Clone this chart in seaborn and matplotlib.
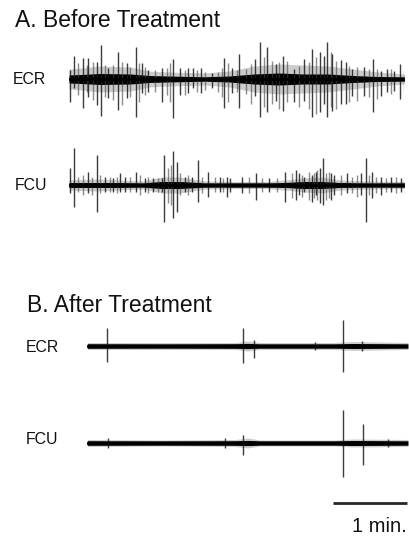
import numpy as np
import pandas as pd
import matplotlib
matplotlib.use("Agg")
import matplotlib.pyplot as plt
import seaborn as sns

sns.set_theme(style="white")
plt.rcParams['font.family'] = ['Liberation Sans', 'DejaVu Sans']

# ---------------- DATA (time in s, amplitude in arbitrary units) ----------------
durA = 272.0
durB = 260.0

# A. Before treatment - ECR : large spikes
ecrA_t = [0.8, 4.3, 11.4, 15.4, 22.5, 25.7, 31.9, 40.0, 46.8, 54.1, 58.9, 64.3,
          75.2, 84.6, 90.0, 96.7, 100.8, 107.0, 115.7, 125.9, 131.9,
          137.8, 150.6, 154.9, 160.8, 167.6, 173.8, 182.4, 190.5, 197.3, 203.5,
          206.8, 209.4, 213.5, 220.3, 224.3, 229.7, 239.2, 246.8, 252.7, 258.1,
          263.5, 268.1]
ecrA_up = [9, 23, 21, 21, 17, 34, 11, 27, 16, 32, 16, 9,
           11, 20, 11, 11, 11, 11, 6, 21, 11,
           25, 20, 37, 32, 15, 23, 10, 20, 30, 27,
           23, 37, 25, 19, 17, 10, 12, 20, 8, 10,
           8, 15]
ecrA_dn = [23, 9, 29, 18, 26, 37, 19, 31, 19, 38, 14, 13,
           23, 39, 16, 14, 9, 14, 9, 29, 14,
           29, 17, 38, 33, 22, 32, 23, 22, 38, 33,
           25, 38, 32, 25, 25, 17, 17, 33, 17, 13,
           12, 20]
# ECR : smaller spikes
ecrA_t2 = [7.6, 14.3, 19.7, 29.2, 35.9, 42.7, 49.5, 56.8, 61.6, 69.7, 79.2, 81.9,
           94.1, 103.5, 110.3, 121.1, 123.8, 129.2, 136.0,
           143.2, 147.3, 158.1, 164.9, 170.3, 177.0, 186.5, 194.6, 200.0, 212.2,
           216.2, 227.0, 233.8, 243.2, 250.0, 260.8, 271.6]
ecrA_up2 = [16, 14, 17, 14, 14, 17, 12, 16, 12, 9, 11, 16,
            9, 9, 7, 7, 11, 16, 9,
            10, 15, 22, 18, 17, 18, 13, 17, 22, 27,
            18, 13, 12, 10, 10, 10, 8]
ecrA_dn2 = [16, 13, 21, 18, 21, 26, 18, 23, 16, 13, 16, 23,
            16, 13, 11, 13, 18, 23, 13,
            15, 25, 28, 25, 30, 23, 28, 30, 35, 28,
            30, 23, 22, 18, 20, 15, 12]
ecrA_env_t = [0, 10, 25, 50, 65, 80, 110, 130, 150, 170, 190, 210, 230, 250, 272]
ecrA_haze = [10, 11, 13, 12, 8, 7, 6, 8, 13, 15, 14, 13, 10, 7, 5]
ecrA_core = [4, 4.5, 5.5, 5, 3.5, 3, 2.2, 3, 5, 6, 5, 5, 3.5, 2.5, 2.2]

# A. Before treatment - FCU : large spikes
fcuA_t = [0.8, 4.3, 15.7, 22.5, 29.2, 35.9, 41.4, 45.4, 54.1, 61.6, 68.4, 75.2,
          77.3, 84.6, 87.3, 94.1, 99.5, 104.8, 113.0, 122.4, 127.9, 130.5,
          140.5, 151.4, 162.2, 175.1, 183.8, 186.5, 190.5, 197.3, 200.0, 203.5,
          205.9, 212.2, 214.9, 225.7, 236.5, 240.6, 245.9, 252.7, 260.8, 269.0]
fcuA_up = [17, 37, 13, 30, 8, 7, 12, 8, 13, 7, 7, 7,
           30, 34, 23, 8, 8, 25, 13, 8, 8, 7,
           8, 12, 7, 13, 15, 12, 8, 10, 13, 17,
           27, 12, 10, 12, 12, 27, 13, 8, 8, 7]
fcuA_dn = [8, 22, 8, 27, 7, 7, 7, 7, 7, 7, 7, 7,
           37, 33, 27, 7, 7, 17, 12, 7, 12, 7,
           8, 15, 7, 17, 15, 10, 7, 17, 10, 18,
           20, 15, 10, 8, 10, 37, 13, 10, 7, 7]
# FCU : smaller spikes
fcuA_t2 = [7.6, 11.6, 18.4, 25.1, 33.2, 38.6, 49.5, 57.6, 64.3, 72.4, 80.5, 82.7,
           90.0, 96.7, 107.6, 118.4, 125.1,
           146.0, 156.8, 168.9, 181.1, 189.2, 194.6, 198.7, 201.4, 208.1, 210.8,
           220.3, 229.7, 233.8, 243.2, 248.7, 256.8, 264.9]
fcuA_up2 = [8, 10, 8, 10, 8, 8, 8, 10, 8, 7, 17, 20,
            12, 10, 8, 8, 7,
            8, 7, 7, 12, 10, 13, 12, 15, 12, 13,
            10, 8, 10, 10, 8, 7, 8]
fcuA_dn2 = [7, 10, 10, 8, 7, 8, 7, 10, 8, 7, 18, 20,
            10, 10, 8, 7, 7,
            8, 7, 7, 13, 12, 15, 13, 15, 15, 13,
            10, 8, 12, 10, 8, 7, 8]
fcuA_env_t = [0, 20, 40, 60, 75, 90, 110, 140, 160, 175, 190, 205, 220, 240, 272]
fcuA_haze = [5, 6, 5, 4, 8, 8, 4, 3.5, 3.5, 5, 7, 8, 5, 4, 3.5]
fcuA_core = [2.5, 2.5, 2.5, 2.2, 3.5, 3.5, 2.2, 2.2, 2.2, 2.5, 3.5, 3.5, 2.5, 2.2, 2.2]

# B. After treatment - ECR
ecrB_t = [15.7, 126.5, 135.2, 184.6, 207.6, 222.5]
ecrB_up = [18, 18, 6, 4, 26, 5]
ecrB_dn = [16, 17, 12, 4, 26, 5]
ecrB_env_t = [0, 60, 120, 130, 140, 200, 215, 260]
ecrB_haze = [3.5, 3.5, 3.5, 5, 3.5, 3.5, 4.5, 3.5]
ecrB_core = [2.3, 2.2, 2.3, 2.6, 2.2, 2.2, 2.5, 2.2]

# B. After treatment - FCU
fcuB_t = [16.8, 111.7, 126.5, 207.6, 223.3, 244.0]
fcuB_up = [5, 5, 8, 33, 19, 4]
fcuB_dn = [5, 5, 12, 34, 22, 4]
fcuB_env_t = [0, 60, 120, 130, 140, 200, 215, 260]
fcuB_haze = [3.5, 3, 3.5, 5, 3, 3, 4, 3.5]
fcuB_core = [2.3, 2.2, 2.3, 2.6, 2.2, 2.2, 2.5, 2.2]

scalebar_start = 199.0
scalebar_len = 60.0  # 1 min

# ---------------- LAYOUT ----------------
W, H = 409, 537
fig = plt.figure(figsize=(W / 100, H / 100), dpi=100)
PX_PER_S = 1.2333


def make_ax(left_px, center_px, dur, ylo=-50, yhi=50):
    width_px = dur * PX_PER_S
    top_px = center_px - yhi
    bottom_px = center_px - ylo
    ax = fig.add_axes([left_px / W, 1 - bottom_px / H, width_px / W, (bottom_px - top_px) / H])
    ax.set_xlim(0, dur)
    ax.set_ylim(ylo, yhi)
    ax.set_axis_off()
    return ax


def draw_trace(ax, env_t, haze, core, t, up, dn, t2=None, up2=None, dn2=None):
    env_t = np.asarray(env_t, float)
    haze = np.asarray(haze, float)
    core = np.asarray(core, float)
    ax.fill_between(env_t, -haze, haze, color='0.35', alpha=0.3, lw=0)
    if t2 is not None:
        ax.vlines(t2, -np.asarray(dn2, float), np.asarray(up2, float),
                  color='0.25', lw=1.0, alpha=0.6)
    ax.vlines(t, -np.asarray(dn, float), np.asarray(up, float),
              color='0.1', lw=1.0, alpha=0.85)
    ax.fill_between(env_t, -core, core, color='black', lw=0)
    df = pd.DataFrame({'t': env_t, 'v': np.zeros_like(env_t)})
    sns.lineplot(data=df, x='t', y='v', ax=ax, color='black', lw=2)
    ax.set_xlabel('')
    ax.set_ylabel('')


axA1 = make_ax(69, 79, durA)
draw_trace(axA1, ecrA_env_t, ecrA_haze, ecrA_core, ecrA_t, ecrA_up, ecrA_dn,
           ecrA_t2, ecrA_up2, ecrA_dn2)
axA2 = make_ax(69, 185, durA)
draw_trace(axA2, fcuA_env_t, fcuA_haze, fcuA_core, fcuA_t, fcuA_up, fcuA_dn,
           fcuA_t2, fcuA_up2, fcuA_dn2)
axB1 = make_ax(87.3, 346, durB)
draw_trace(axB1, ecrB_env_t, ecrB_haze, ecrB_core, ecrB_t, ecrB_up, ecrB_dn)
axB2 = make_ax(87.3, 443, durB, ylo=-100, yhi=50)
draw_trace(axB2, fcuB_env_t, fcuB_haze, fcuB_core, fcuB_t, fcuB_up, fcuB_dn)

# scale bar
axB2.plot([scalebar_start, scalebar_start + scalebar_len], [-60, -60],
          color='0.15', lw=2, clip_on=False, solid_capstyle='butt')
axB2.text(scalebar_start + scalebar_len, -89.5, '1 min.', ha='right', va='baseline',
          fontsize=14.5, color='#111111')

# titles and labels
fig.text(15 / W, 1 - 27 / H, 'A. Before Treatment', fontsize=16.5, va='baseline', color='#111111')
fig.text(27 / W, 1 - 312 / H, 'B. After Treatment', fontsize=16.5, va='baseline', color='#111111')
fig.text(13 / W, 1 - 79 / H, 'ECR', fontsize=11.4, va='center', color='#111111')
fig.text(15 / W, 1 - 185 / H, 'FCU', fontsize=11.4, va='center', color='#111111')
fig.text(26 / W, 1 - 348 / H, 'ECR', fontsize=11.4, va='center', color='#111111')
fig.text(26 / W, 1 - 440 / H, 'FCU', fontsize=11.4, va='center', color='#111111')

fig.savefig('out.png', dpi=100)
